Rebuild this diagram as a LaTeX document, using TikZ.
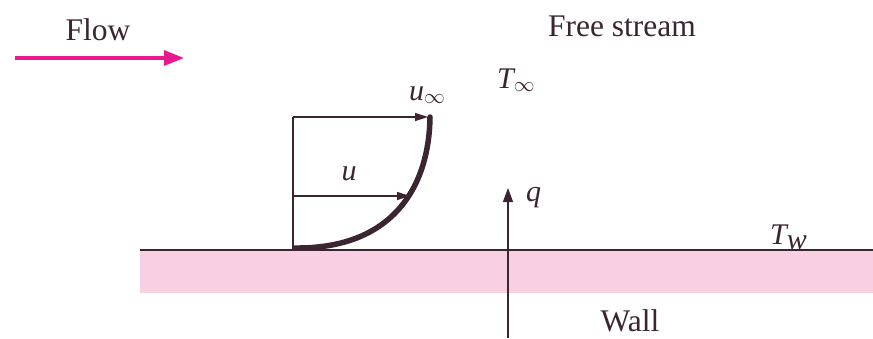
\documentclass[tikz,border=0pt]{standalone}
\usepackage{fontspec}
\setmainfont{Liberation Serif}
\usetikzlibrary{arrows.meta}
\definecolor{ink}{HTML}{3A2530}
\definecolor{flowpink}{HTML}{E8198C}
\definecolor{wallpink}{HTML}{F9D0E3}
\tikzset{
  lbl/.style={text=ink, inner sep=0pt, font=\fontsize{30}{34}\selectfont},
  word/.style={text=ink, inner sep=0pt, font=\fontsize{31.5}{36}\selectfont},
  thin/.style={draw=ink, line width=1.4pt},
  vec/.style={thin, -{Triangle[length=13pt,width=8pt]}},
}
\begin{document}
\begin{tikzpicture}[x=1pt,y=-1pt]
\useasboundingbox (0,0) rectangle (873,338);
% wall
\fill[wallpink] (140,250) rectangle (873,293);
\coordinate (wl) at (140,250);
\coordinate (wr) at (873,250);
\draw[thin] (wl) -- (wr);
% flow
\node[word] (flow) at (98,30) {Flow};
\coordinate (fa) at (15,58);
\coordinate (fb) at (184,58);
\draw[flowpink, line width=3.2pt, -{Triangle[length=20pt,width=15pt]}] (fa) -- (fb);
\node[word] (free) at (622,26) {Free stream};
% profile
\coordinate (p0) at (293,250);
\coordinate (p1) at (293,117);
\coordinate (ptop) at (428,117);
\coordinate (pmid0) at (293,196);
\coordinate (pmid) at (410,196);
\draw[thin] (p0) -- (p1);
\draw[vec] (p1) -- (ptop);
\draw[vec] (pmid0) -- (pmid);
\draw[ink, line width=5.5pt, line cap=round] (295,248) .. controls (390,249) and (429,190) .. (430,117);
\node[lbl, anchor=base] (ulab) at (349,180) {$\textit{u}$};
\node[lbl, anchor=base west] (uinf) at (409,100) {$\textit{u}_{\infty}$};
\node[lbl, anchor=base west] (tinf) at (497,88) {$\textit{T}_{\infty}$};
% heat flux
\coordinate (qa) at (508,338);
\coordinate (qb) at (508,188);
\draw[thin, -{Triangle[length=14pt,width=10pt]}] (qa) -- (qb);
\node[lbl, anchor=base west] (q) at (526,201) {$\textit{q}$};
\node[lbl, anchor=base west] (tw) at (770,244) {$\textit{T}_{\textit{w}}$};
\node[word] (wall) at (630,321) {Wall};
\end{tikzpicture}
\end{document}
